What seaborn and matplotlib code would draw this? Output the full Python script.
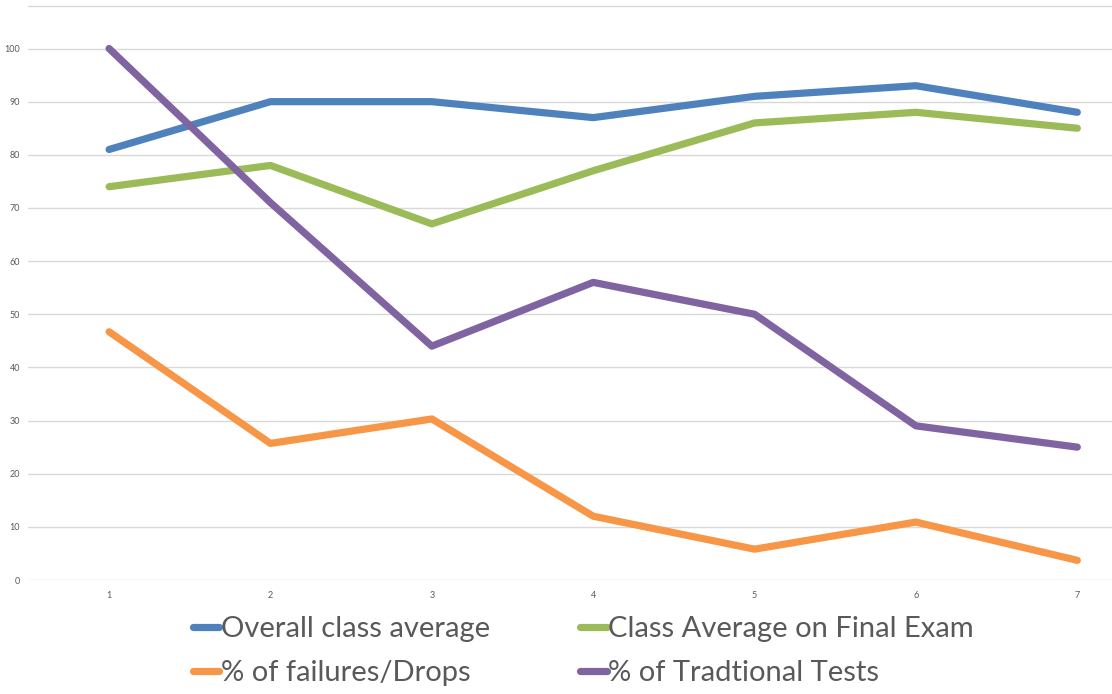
import numpy as np
import pandas as pd
import seaborn as sns
import matplotlib.pyplot as plt

# values
weeks = [1, 2, 3, 4, 5, 6, 7]
overall_avg = [81, 90, 90, 87, 91, 93, 88]
final_exam_avg = [74, 78, 67, 77, 86, 88, 85]
failures_drops = [46.7, 25.7, 30.3, 12, 5.8, 10.9, 3.7]
traditional_tests = [100, 71, 44, 56, 50, 29, 25]

series_names = ['Overall class average', 'Class Average on Final Exam',
                '% of failures/Drops', '% of Tradtional Tests']
colors = ['#4F81BD', '#9BBB59', '#F79646', '#8064A2']

df = pd.DataFrame({
    'x': weeks * 4,
    'value': overall_avg + final_exam_avg + failures_drops + traditional_tests,
    'series': sum([[n] * len(weeks) for n in series_names], []),
})

sns.set_theme(style='white')
plt.rcParams['font.family'] = ['Lato', 'DejaVu Sans']

fig = plt.figure(figsize=(11.12, 6.94), dpi=100)
W, H = 1112, 694
# plot area (pixels): x 28..1158 (cropped on right), y 6..580
left, right, top, bottom = 28.4, 1158, 6, 580
ax = fig.add_axes([left / W, 1 - bottom / H, (right - left) / W, (bottom - top) / H])

sns.lineplot(data=df, x='x', y='value', hue='series', palette=colors,
             hue_order=series_names, linewidth=5.2, ax=ax, legend=False,
             solid_capstyle='round', solid_joinstyle='round')
for ln in ax.lines:
    ln.set_clip_on(False)
    ln.set_solid_capstyle('round')

ax.set_xlim(0.5, 7.5)
ax.set_ylim(0, 108)
ax.set_yticks(np.arange(0, 101, 10))
ax.set_xticks(weeks)
ax.yaxis.grid(True, color='#D9D9D9', linewidth=1)
ax.set_axisbelow(True)
for s in ['left', 'right', 'bottom']:
    ax.spines[s].set_visible(False)
ax.spines['top'].set_color('#D9D9D9')
ax.spines['top'].set_linewidth(1)
ax.tick_params(axis='both', length=0, labelsize=6.5, labelcolor='#595959', pad=6)
ax.tick_params(axis='x', pad=8)
ax.set_xlabel('')
ax.set_ylabel('')

# legend fills column-wise, so reorder to get rows: blue/green, orange/purple
order = [0, 2, 1, 3]
handles = [plt.Line2D([0], [0], color=colors[i], linewidth=5.2, solid_capstyle='round')
           for i in order]
labels = [series_names[i] for i in order]
fig.legend(handles, labels, loc='upper left', bbox_to_anchor=(193 / W, 1 - 616 / H),
           ncol=2, frameon=False, fontsize=21, handlelength=0.9, handletextpad=0.05,
           columnspacing=3.1, labelspacing=0.62, labelcolor='#595959',
           borderaxespad=0, borderpad=0)

fig.savefig('out.png', dpi=100)
